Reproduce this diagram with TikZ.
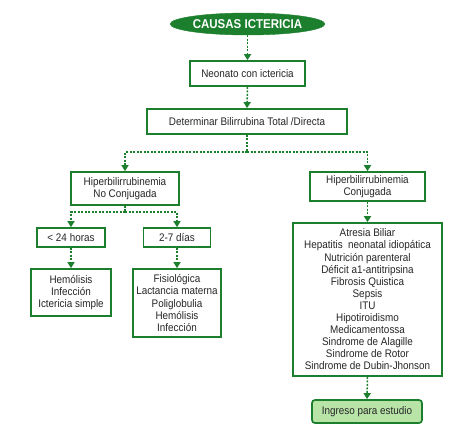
\documentclass[tikz,border=0pt]{standalone}
\usepackage{fontspec}
\setmainfont{Liberation Sans}[FakeStretch=0.9]
\usetikzlibrary{arrows.meta,shapes.geometric}
\definecolor{dg}{HTML}{1B7F2D}
\definecolor{lg}{HTML}{B8E4A8}
\definecolor{tx}{HTML}{262626}
\tikzset{
  box/.style={draw=dg, line width=1.7pt, fill=white, text=tx, align=center, inner sep=0pt,
     font=\fontsize{11}{12.1}\selectfont},
  conn/.style={draw=dg, line width=1.5pt, dash pattern=on 2pt off 1.5pt,
     -{Triangle[width=7pt,length=6pt]}},
  dline/.style={draw=dg, line width=1.5pt, dash pattern=on 2pt off 1.5pt},
}
\begin{document}
\begin{tikzpicture}[x=1pt,y=-1pt]
\useasboundingbox (0,0) rectangle (474,442);
\node[ellipse, fill=dg, draw=dg, minimum width=151pt, minimum height=22pt, inner sep=0pt,
      text=white, font=\fontsize{12.8}{14}\selectfont\bfseries] (title) at (247.5,24) {CAUSAS ICTERICIA};
\node[box, minimum width=115pt, minimum height=25pt] (neo) at (247.5,73.5) {Neonato con ictericia};
\node[box, minimum width=200pt, minimum height=25pt] (det) at (247,121.5) {Determinar Bilirrubina Total /Directa};
\node[box, minimum width=108pt, minimum height=33pt] (nc) at (125,188.5) {Hiperbilirrubinemia\\No Conjugada};
\node[box, minimum width=115pt, minimum height=29pt] (cj) at (367.5,186.5) {Hiperbilirrubinemia\\Conjugada};
\node[box, minimum width=68pt, minimum height=19pt] (h24) at (71,237.5) {< 24 horas};
\node[box, minimum width=67pt, minimum height=19pt] (d27) at (177,237.5) {2-7 días};
\node[box, minimum width=80pt, minimum height=47pt] (hem) at (71,292.5) {Hemólisis\\Infección\\Ictericia simple};
\node[box, minimum width=88pt, minimum height=68pt] (fis) at (177,303) {Fisiológica\\Lactancia materna\\Poliglobulia\\Hemólisis\\Infección};
\node[box, minimum width=149pt, minimum height=153pt] (big) at (367.5,299.5) {Atresia Biliar\\Hepatitis\ \ neonatal idiopática\\Nutrición parenteral\\Déficit a1-antitripsina\\Fibrosis Quistica\\Sepsis\\ITU\\Hipotiroidismo\\Medicamentossa\\Sindrome de Alagille\\Sindrome de Rotor\\Sindrome de Dubin-Jhonson};
\node[box, fill=lg, rounded corners=3pt, minimum width=110pt, minimum height=23pt] (ing) at (367,411.5) {Ingreso para estudio};
\coordinate (b1) at (247,152);
\coordinate (b2) at (125,212);
\draw[conn] (title.south) -- (neo.north);
\draw[conn] (neo.south) -- (det.north);
\draw[dline] (det.south) -- (b1);
\draw[conn] (b1) -| (nc.north);
\draw[conn] (b1) -| (cj.north);
\draw[dline] (nc.south) -- (b2);
\draw[conn] (b2) -| (h24.north);
\draw[conn] (b2) -| (d27.north);
\draw[conn] (h24.south) -- (hem.north);
\draw[conn] (d27.south) -- (fis.north);
\draw[conn] (cj.south) -- (big.north);
\draw[conn] (big.south) -- (ing.north);
\end{tikzpicture}
\end{document}
